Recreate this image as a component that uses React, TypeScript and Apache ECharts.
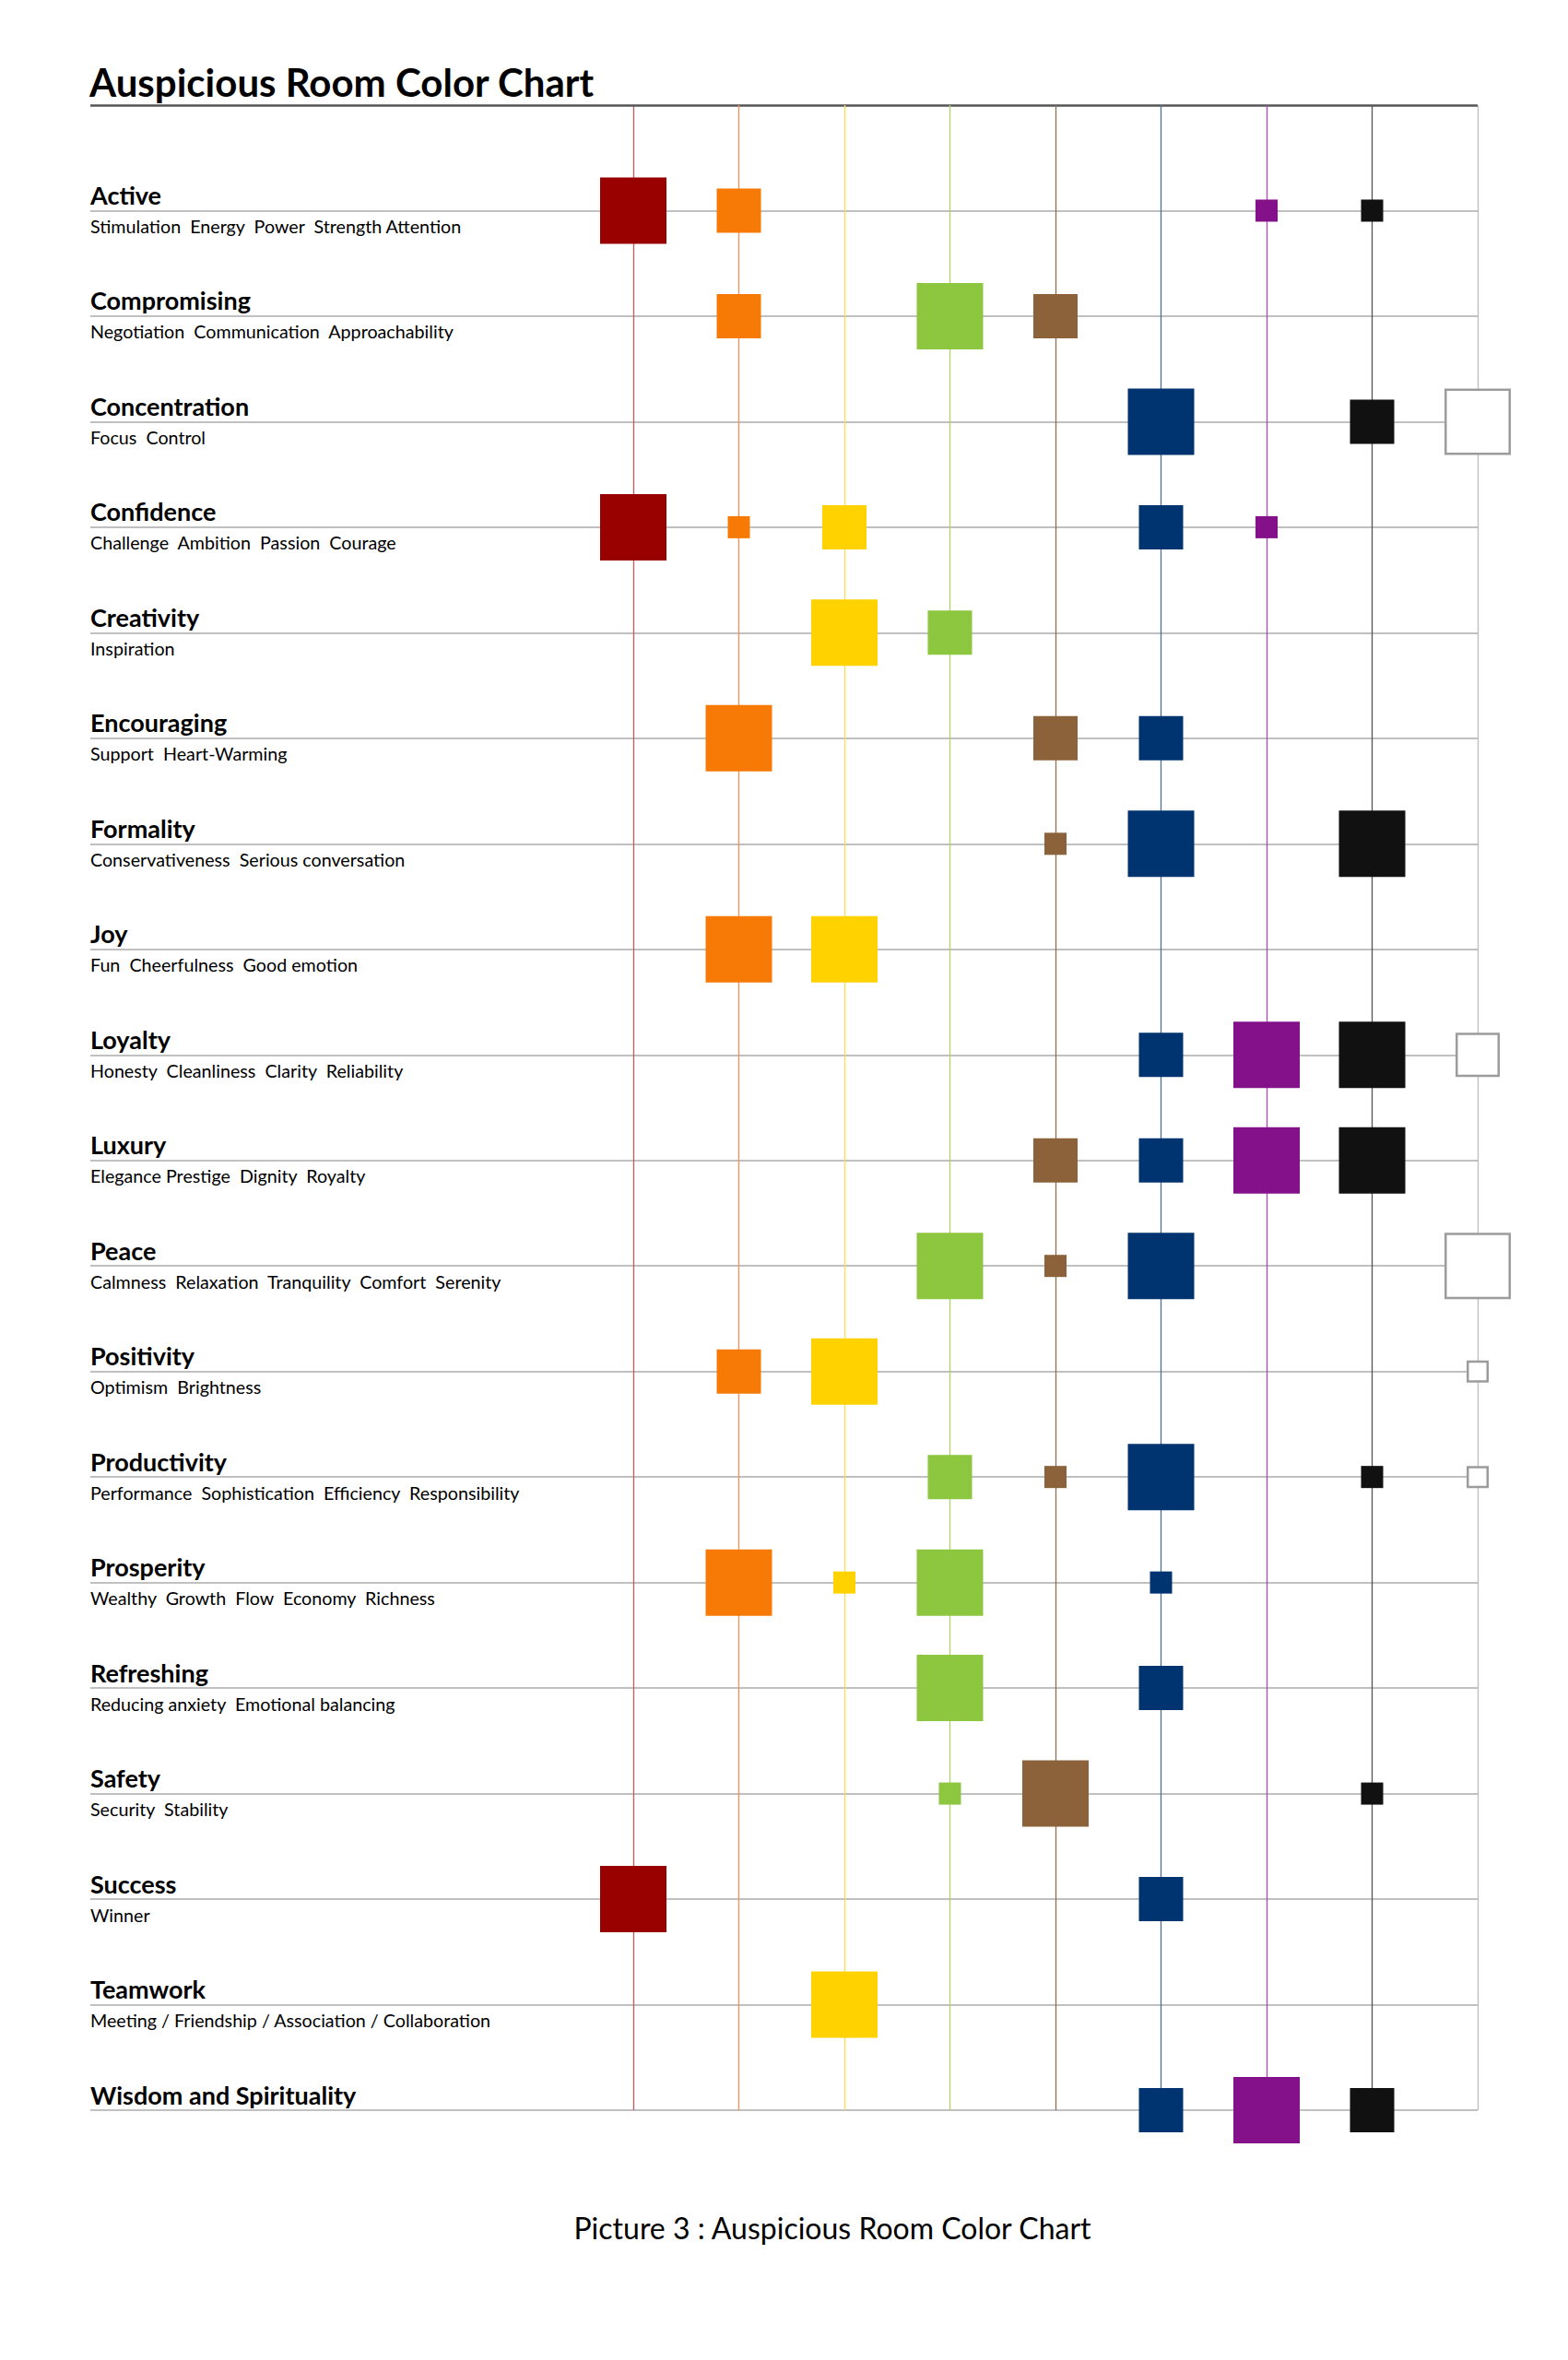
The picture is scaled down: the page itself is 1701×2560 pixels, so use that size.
import React, { useEffect, useRef } from 'react';
import * as echarts from 'echarts';

// ---- data ----
const COLUMNS = ['Red', 'Orange', 'Yellow', 'Green', 'Brown', 'Navy', 'Purple', 'Black', 'White'];
const COLUMN_COLORS = ['#990000', '#F77A06', '#FFD200', '#8DC63F', '#8B6239', '#003471', '#841189', '#111111', '#FFFFFF'];
const LINE_COLORS = ['#C45A5A', '#F0905A', '#FFDA55', '#A9D46E', '#8E7055', '#4F6E98', '#A64CB4', '#555555', '#BDBDBD'];

const ROWS = [
  'Active', 'Compromising', 'Concentration', 'Confidence', 'Creativity', 'Encouraging', 'Formality', 'Joy',
  'Loyalty', 'Luxury', 'Peace', 'Positivity', 'Productivity', 'Prosperity', 'Refreshing', 'Safety',
  'Success', 'Teamwork', 'Wisdom and Spirituality',
];
const SUBS = [
  'Stimulation  Energy  Power  Strength Attention',
  'Negotiation  Communication  Approachability',
  'Focus  Control',
  'Challenge  Ambition  Passion  Courage',
  'Inspiration',
  'Support  Heart-Warming',
  'Conservativeness  Serious conversation',
  'Fun  Cheerfulness  Good emotion',
  'Honesty  Cleanliness  Clarity  Reliability',
  'Elegance Prestige  Dignity  Royalty',
  'Calmness  Relaxation  Tranquility  Comfort  Serenity',
  'Optimism  Brightness',
  'Performance  Sophistication  Efficiency  Responsibility',
  'Wealthy  Growth  Flow  Economy  Richness',
  'Reducing anxiety  Emotional balancing',
  'Security  Stability',
  'Winner',
  'Meeting / Friendship / Association / Collaboration',
  '',
];

// strength level per row: 0 none, 1 small, 2 medium, 3 large
const RED    = [3, 0, 0, 3, 0, 0, 0, 0, 0, 0, 0, 0, 0, 0, 0, 0, 3, 0, 0];
const ORANGE = [2, 2, 0, 1, 0, 3, 0, 3, 0, 0, 0, 2, 0, 3, 0, 0, 0, 0, 0];
const YELLOW = [0, 0, 0, 2, 3, 0, 0, 3, 0, 0, 0, 3, 0, 1, 0, 0, 0, 3, 0];
const GREEN  = [0, 3, 0, 0, 2, 0, 0, 0, 0, 0, 3, 0, 2, 3, 3, 1, 0, 0, 0];
const BROWN  = [0, 2, 0, 0, 0, 2, 1, 0, 0, 2, 1, 0, 1, 0, 0, 3, 0, 0, 0];
const NAVY   = [0, 0, 3, 2, 0, 2, 3, 0, 2, 2, 3, 0, 3, 1, 2, 0, 2, 0, 2];
const PURPLE = [1, 0, 0, 1, 0, 0, 0, 0, 3, 3, 0, 0, 0, 0, 0, 0, 0, 0, 3];
const BLACK  = [1, 0, 2, 0, 0, 0, 3, 0, 3, 3, 0, 0, 1, 0, 0, 1, 0, 0, 2];
const WHITE  = [0, 0, 3, 0, 0, 0, 0, 0, 2, 0, 3, 1, 1, 0, 0, 0, 0, 0, 0];
const LEVELS = [RED, ORANGE, YELLOW, GREEN, BROWN, NAVY, PURPLE, BLACK, WHITE];

const TITLE = 'Auspicious Room Color Chart';
const CAPTION = 'Picture 3 : Auspicious Room Color Chart';

const SIZE_PX = [0, 24, 48, 72];
const X_MIN = -5.144;

export default function App() {
  const ref = useRef<HTMLDivElement>(null);

  useEffect(() => {
    document.body.style.margin = '0';
    const chart = echarts.init(ref.current as HTMLDivElement, null, { renderer: 'svg' });

    const series: any[] = COLUMNS.map((name, k) => {
      const isWhite = k === COLUMNS.length - 1;
      const lineData: any[] = [{ xAxis: k }];
      if (k === 0) {
        lineData.push({ yAxis: -1, lineStyle: { color: '#555555', width: 2.5, type: 'solid' } });
      }
      return {
        type: 'scatter',
        name,
        z: 10,
        symbol: 'rect',
        symbolSize: (v: number[]) => SIZE_PX[v[2]] - (isWhite ? 2.5 : 0),
        data: LEVELS[k].map((lv, r) => [k, r, lv]).filter((d) => d[2] > 0),
        itemStyle: isWhite
          ? { color: '#FFFFFF', borderColor: '#9C9C9C', borderWidth: 2.5, opacity: 1 }
          : { color: COLUMN_COLORS[k], opacity: 1 },
        emphasis: { disabled: true },
        markLine: {
          silent: true,
          z: 1,
          symbol: 'none',
          label: { show: false },
          emphasis: { disabled: true },
          lineStyle: { color: LINE_COLORS[k], width: 1.3, type: 'solid' },
          data: lineData,
        },
      };
    });

    const option: any = {
      animation: false,
      backgroundColor: '#FFFFFF',
      grid: { left: 98, right: 98, top: 114, bottom: 271, containLabel: false, outerBoundsMode: 'none' },
      xAxis: { type: 'value', min: X_MIN, max: COLUMNS.length - 1, show: false },
      yAxis: {
        type: 'value',
        min: -1,
        max: ROWS.length - 1,
        interval: 1,
        inverse: true,
        axisLine: { show: false },
        axisTick: { show: false },
        splitLine: { show: true, showMinLine: false, lineStyle: { color: '#ABABAB', width: 1.5 } },
        axisLabel: {
          inside: true,
          margin: 0,
          formatter: (v: number) => {
            const i = Math.round(v);
            if (i < 0 || i >= ROWS.length) return '';
            return `{t|${ROWS[i]}}\n{s|${SUBS[i] || ' '}}`;
          },
          rich: {
            t: { fontFamily: 'Lato', fontWeight: 'bold', fontSize: 27, color: '#000000', lineHeight: 34 },
            s: { fontFamily: 'Lato', fontSize: 19.7, color: '#000000', lineHeight: 34 },
          },
        },
      },
      graphic: [
        {
          type: 'text',
          x: 97,
          y: 89,
          style: { text: TITLE, fontFamily: 'Lato', fontWeight: 'bold', fontSize: 42, fill: '#000000', align: 'left', verticalAlign: 'middle' },
        },
        {
          type: 'text',
          x: 903,
          y: 2416,
          style: { text: CAPTION, fontFamily: 'Lato', fontSize: 32, fill: '#000000', align: 'center', verticalAlign: 'middle' },
        },
      ],
      series,
    };

    chart.setOption(option);
    return () => chart.dispose();
  }, []);

  return <div ref={ref} style={{ width: 1701, height: 2560 }} />;
}
